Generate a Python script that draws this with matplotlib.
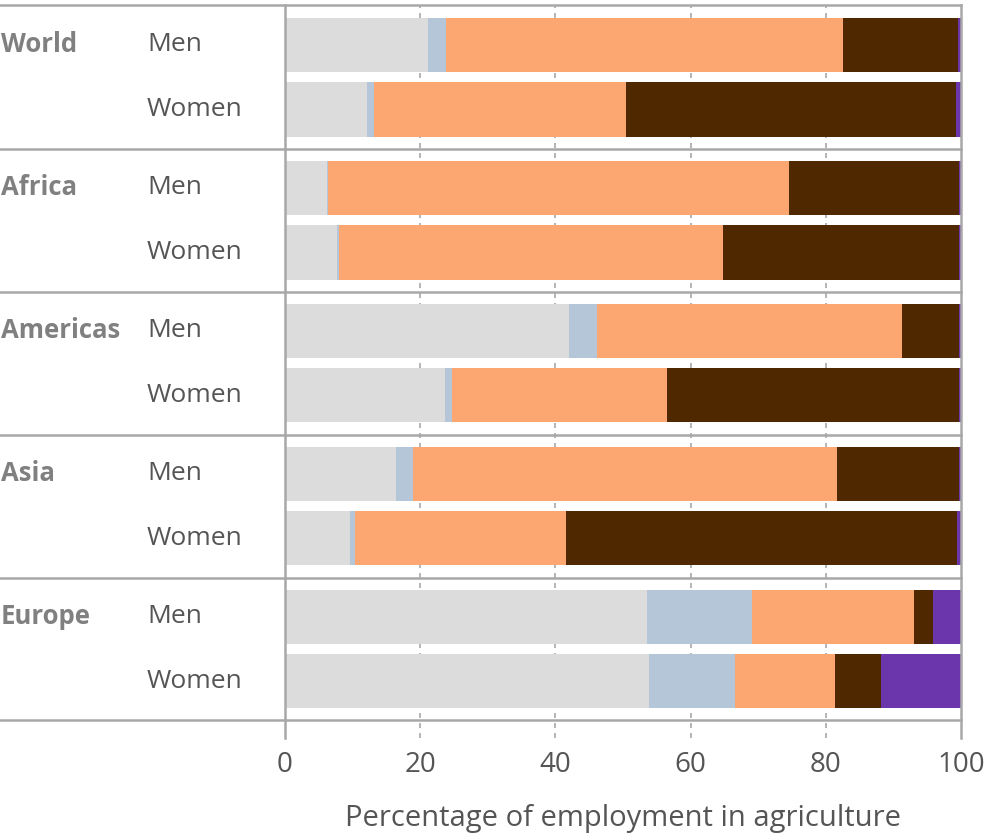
import matplotlib.pyplot as plt
import matplotlib.transforms as mtransforms
import numpy as np

# =========================
# Data (percent of employment in agriculture, by status)
# =========================
regions = ["World", "Africa", "Americas", "Asia", "Europe"]
genders = ["Men", "Women"]

# rows: World M, World W, Africa M, Africa W, Americas M, Americas W, Asia M, Asia W, Europe M, Europe W
seg_gray = [21.1, 12.1, 6.2, 7.7, 42.0, 23.6, 16.4, 9.6, 53.5, 53.8]
seg_blue = [2.7, 1.1, 0.2, 0.3, 4.2, 1.1, 2.5, 0.8, 15.6, 12.7]
seg_salmon = [58.7, 37.2, 68.2, 56.8, 45.1, 31.8, 62.8, 31.2, 24.0, 14.8]
seg_brown = [17.0, 48.9, 25.1, 34.9, 8.4, 43.2, 18.0, 57.8, 2.8, 6.9]
seg_purple = [0.5, 0.7, 0.3, 0.3, 0.3, 0.3, 0.3, 0.6, 4.1, 11.8]

segments = [seg_gray, seg_blue, seg_salmon, seg_brown, seg_purple]
colors = ["#dcdcdc", "#b4c6d8", "#fca672", "#4f2800", "#6b35ab"]

# =========================
# Layout
# =========================
group_step = 2.217
pad_top = 0.62
pad_bot = 0.6
y_pos = []
for g in range(len(regions)):
    y_pos += [g * group_step, g * group_step + 1]
y_pos = np.array(y_pos)

plt.rcParams["font.family"] = ["Open Sans", "DejaVu Sans"]

fig = plt.figure(figsize=(9.87, 8.35), dpi=100)
ax = fig.add_axes([0.2888, 0.1377, 0.685, 0.8563])

y_top = -pad_top
y_bot = y_pos[-1] + pad_bot
ax.set_xlim(0, 100)
ax.set_ylim(y_bot, y_top)

# gridlines (behind the bars)
trans_xd = mtransforms.blended_transform_factory(ax.transData, ax.transAxes)
for gx in [20, 40, 60, 80]:
    ax.plot([gx, gx], [-0.025, 1], transform=trans_xd, color="#a8a8a8",
            lw=1.2, ls=(0, (3, 3)), clip_on=False, zorder=0)
for gx in [0, 100]:
    ax.plot([gx, gx], [-0.025, 1], transform=trans_xd, color="#a8a8a8",
            lw=1.8, clip_on=False, zorder=3)

# stacked bars
left = np.zeros(len(y_pos))
for vals, col in zip(segments, colors):
    vals = np.array(vals)
    ax.barh(y_pos, vals, left=left, height=0.84, color=col, zorder=2)
    left += vals

# group separators, extending to the left edge of the figure
trans_ad = mtransforms.blended_transform_factory(ax.transAxes, ax.transData)
x_left = -0.2888 / 0.685
sep_y = [y_top] + [g * group_step + 1 + (group_step - 1) / 2 for g in range(len(regions) - 1)] + [y_bot]
for sy in sep_y:
    ax.plot([x_left, 1], [sy, sy], transform=trans_ad, color="#a8a8a8",
            lw=1.8, clip_on=False, zorder=3)

# row labels
for g, reg in enumerate(regions):
    ax.text(x_left + 0.001, y_pos[2 * g], reg, transform=trans_ad, ha="left", va="center",
            fontsize=18.5, fontweight="bold", color="#808080")
    for k, gen in enumerate(genders):
        ax.text(x_left + 147 / 676, y_pos[2 * g + k], gen, transform=trans_ad,
                ha="left", va="center", fontsize=19, color="#555555")

for s in ax.spines.values():
    s.set_visible(False)
ax.set_yticks([])
ax.set_xticks([0, 20, 40, 60, 80, 100])
ax.tick_params(axis="x", length=0, pad=22, labelsize=20, labelcolor="#555555")
ax.set_xlabel("Percentage of employment in agriculture", fontsize=21,
              color="#555555", labelpad=18)

fig.savefig("out.png", dpi=100)
